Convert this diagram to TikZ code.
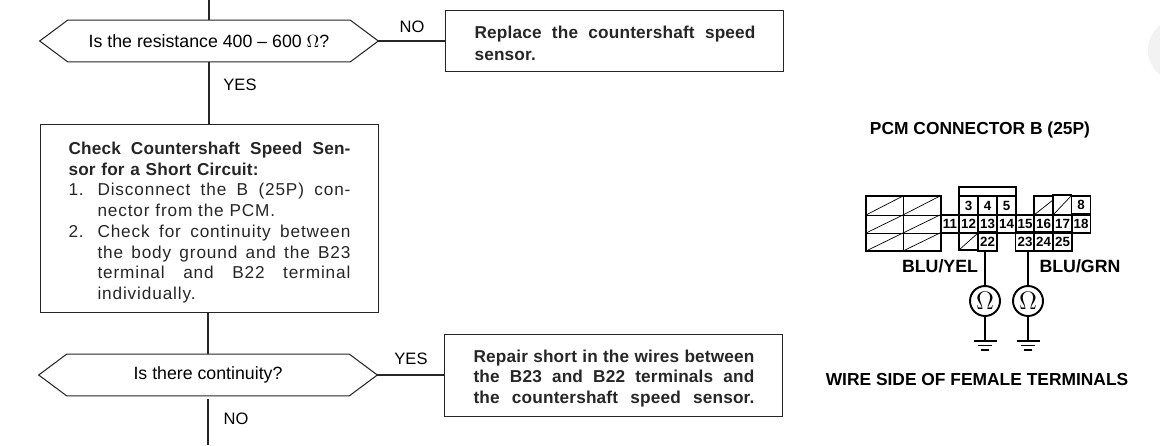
\documentclass[tikz,border=0pt]{standalone}
\usepackage{fontspec}
\setmainfont{Liberation Sans}
\newfontfamily\stepfont[LetterSpace=1]{Liberation Sans}
\newfontfamily\listfont[LetterSpace=5]{Liberation Sans}

\newcommand{\fitline}[2]{\makebox[#1][s]{\spaceskip=0pt \xspaceskip=0pt #2}}
\newcommand{\listline}[2]{\makebox[0.58cm][l]{#1}\fitline{5.06cm}{#2}}

\tikzset{
    flowline/.style={line width=0.6pt, black!85},
    decision/.style={minimum width=6.76cm, minimum height=0.82cm, inner sep=0pt,
        font=\fontsize{10.1}{11}\selectfont},
    answer/.style={font=\fontsize{9.4}{11}\selectfont},
    stepbox/.style={draw, flowline, anchor=north west, inner xsep=0pt, inner ysep=0pt,
        align=left, font=\stepfont\bfseries\fontsize{9.8}{11.8}\selectfont},
    cell/.style={draw, line width=1pt, minimum width=0.38cm, minimum height=0.37cm,
        inner sep=0pt, font=\bfseries\fontsize{7.6}{8}\selectfont},
    blocked/.style={line width=1pt},
    meter/.style={draw, circle, line width=1.1pt, minimum size=0.6cm, inner sep=0pt,
        font=\fontsize{15}{15}\selectfont},
    pinlabel/.style={font=\bfseries\fontsize{10.1}{11}\selectfont},
    title/.style={font=\bfseries\fontsize{9.9}{10}\selectfont}
}

\begin{document}
\begin{tikzpicture}[x=0.02cm, y=-0.02cm]

    \useasboundingbox (0,0) rectangle (1160,446);

    % Smudge at the page edge
    \begin{scope}
        \clip (0,0) rectangle (1160,446);
        \fill[black!5] (1180,50) circle (32);
    \end{scope}

    % Flow boxes
    \node[decision] (resistance) at (209,41) {Is the resistance 400 -- 600 $\Omega$?};
    \node[decision] (continuity) at (208,375) {Is there continuity?};
    \foreach \q in {resistance, continuity}
        \draw[flowline] (\q.west) -- ([xshift=0.56cm]\q.north west) -- ([xshift=-0.56cm]\q.north east)
            -- (\q.east) -- ([xshift=-0.56cm]\q.south east) -- ([xshift=0.56cm]\q.south west) -- cycle;

    \node[stepbox, text width=6.76cm, minimum height=3.76cm] (check) at (40,124) {%
        \hspace*{0.56cm}\begin{minipage}{5.64cm}
        \vspace*{0.16cm}
        \fitline{5.64cm}{Check Countershaft Speed Sen-}\\
        sor for a Short Circuit:\\
        {\listfont\mdseries\listline{1.}{Disconnect the B (25P) con-}\\
        \mbox{}\hspace{0.58cm}nector from the PCM.\\
        \listline{2.}{Check for continuity between}\\
        \listline{}{the body ground and the B23}\\
        \listline{}{terminal and B22 terminal}\\
        \mbox{}\hspace{0.58cm}individually.}
        \end{minipage}};

    \node[stepbox, text width=6.76cm, minimum height=1.22cm] (replace) at (445,10) {%
        \hspace*{0.58cm}\begin{minipage}{5.62cm}
        \vspace*{0.1cm}
        \fitline{5.62cm}{Replace the countershaft speed}\\[0.6pt]
        sensor.
        \end{minipage}};

    \node[stepbox, text width=6.76cm, minimum height=1.64cm] (repair) at (444,334) {%
        \hspace*{0.58cm}\begin{minipage}{5.62cm}
        \vspace*{0.12cm}
        \fitline{5.62cm}{Repair short in the wires between}\\
        \fitline{5.62cm}{the B23 and B22 terminals and}\\
        \fitline{5.62cm}{the countershaft speed sensor.}
        \end{minipage}};

    % Free ends
    \coordinate (top) at (209,0);
    \coordinate (bottom) at (208,445);
    \coordinate (gapstart) at (208,399);

    % Connectors
    \draw[flowline] (top) -- (resistance.north);
    \draw[flowline] (resistance.south) -- (check.north -| resistance.south);
    \draw[flowline] (check.south -| continuity.north) -- (continuity.north);
    \draw[flowline] (gapstart) -- (bottom);
    \draw[flowline] (resistance.east) -- (replace.west |- resistance.east);
    \draw[flowline] (continuity.east) -- (repair.west |- continuity.east);

    % Answers
    \node[answer] (no1) at (412,27) {NO};
    \node[answer] (yes1) at (240,85) {YES};
    \node[answer] (yes2) at (411,359) {YES};
    \node[answer] (no2) at (236,419) {NO};

    % Connector title
    \node[title] (pcm) at (980,130) {PCM CONNECTOR B (25P)};
    \node[title] (side) at (977,380) {WIRE SIDE OF FEMALE TERMINALS};

    % Blocked side of connector
    \draw[blocked] (866,196) rectangle (941,251);
    \draw[line width=0.5pt] (866,215) -- (959,215) (866,233) -- (941,233) (903,196) -- (903,251);
    \foreach \x in {866,903}
        \foreach \y/\h in {196/19,215/18,233/18}
            \draw[line width=0.4pt] (\x,\y+\h) -- (\x+37,\y);

    % Raised key
    \draw[blocked] (959,196) -- (959,187) -- (1016,187) -- (1016,196) -- cycle;

    % Blocked cavities
    \draw[blocked] (959,233) rectangle (978,250);
    \draw[line width=0.4pt] (959,250) -- (978,233);
    \draw[blocked] (1034,215) -- (1034,196) -- (1053,196);
    \draw[line width=0.4pt] (1034,215) -- (1053,200);
    \draw[blocked] (1053,215) -- (1053,195) -- (1072,195);
    \draw[line width=0.4pt] (1053,215) -- (1072,195);

    % Terminals
    \foreach \n/\x/\y in {3/968.5/205.5, 4/987.5/205.5, 5/1006.5/205.5, 8/1081/205,
        11/950/224, 12/968.5/224, 13/987.5/224, 14/1006.5/224, 15/1025/224,
        16/1043.5/224, 17/1062.5/224, 18/1081/224,
        22/987.5/241.5, 23/1025/241.5, 24/1043.5/241.5, 25/1062.5/241.5}
        \node[cell] (pin\n) at (\x,\y) {\n};

    % Wire colours
    \node[pinlabel] (yel) at (940,266) {BLU/YEL};
    \node[pinlabel] (grn) at (1080,266) {BLU/GRN};

    % Meters
    \node[meter] (meterA) at (985,301) {$\Omega$};
    \node[meter] (meterB) at (1028,301) {$\Omega$};
    \draw[line width=0.7pt] (pin22.south -| meterA.north) -- (meterA.north);
    \draw[line width=0.7pt] (pin23.south -| meterB.north) -- (meterB.north);

    % Grounds
    \coordinate (gndA) at (985,341);
    \coordinate (gndB) at (1028,341);
    \foreach \m/\g in {meterA/gndA, meterB/gndB} {
        \draw[line width=0.7pt] (\m.south) -- (\g);
        \draw[line width=0.7pt] ([xshift=-0.23cm]\g) -- ([xshift=0.23cm]\g);
        \draw[line width=0.7pt] ([xshift=-0.14cm, yshift=-0.09cm]\g) -- ([xshift=0.14cm, yshift=-0.09cm]\g);
        \draw[line width=0.7pt] ([xshift=-0.08cm, yshift=-0.18cm]\g) -- ([xshift=0.08cm, yshift=-0.18cm]\g);
    }

\end{tikzpicture}
\end{document}
